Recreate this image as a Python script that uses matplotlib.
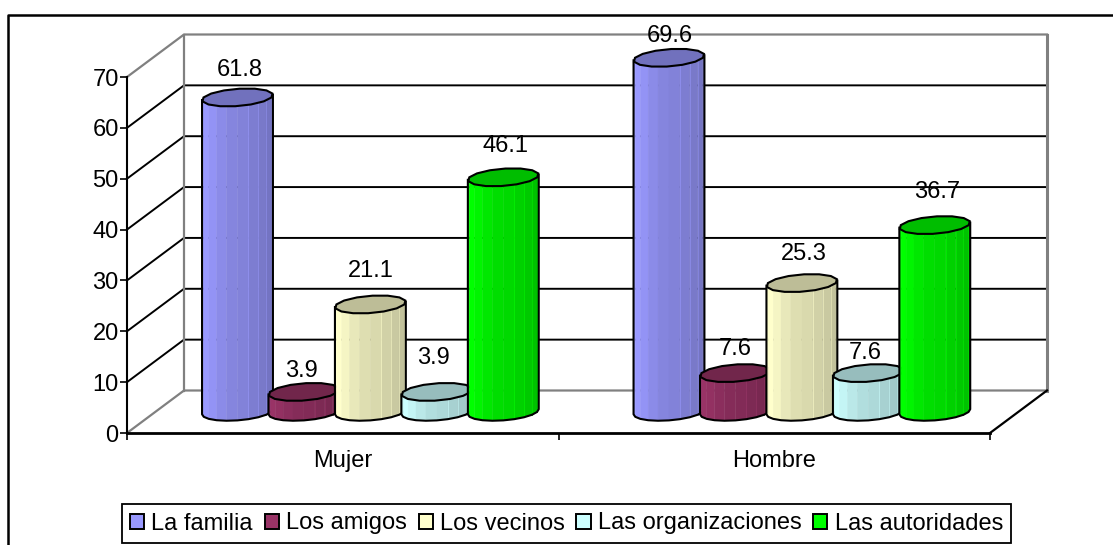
import numpy as np
import matplotlib.pyplot as plt
from matplotlib.patches import Patch
from matplotlib.lines import Line2D

plt.rcParams['font.family'] = ['Liberation Sans', 'DejaVu Sans']

# Data
categories = ['Mujer', 'Hombre']
series = ['La familia', 'Los amigos', 'Los vecinos', 'Las organizaciones', 'Las autoridades']
mujer = [61.8, 3.9, 21.1, 3.9, 46.1]
hombre = [69.6, 7.6, 25.3, 7.6, 36.7]
colors = ['#9999FF', '#993366', '#FFFFCC', '#CCFFFF', '#00FF00']
# label offsets in pixels (dx, height above the bar top)
label_mujer = [(2, 27), (-2, 21), (0, 33), (-3, 34), (2, 31)]
label_hombre = [(1, 22), (0, 24), (2, 29), (-3, 20), (2, 33)]

W, H = 1113, 545
FS = 17
fig = plt.figure(figsize=(W / 100, H / 100), dpi=100)
ax = fig.add_axes([127 / W, 1 - 433 / H, 863 / W, 356 / H])
ax.set_xlim(0, 2)
ax.set_ylim(0, 70)
ax.patch.set_alpha(0)

# pixels to data units
px = 2 / 863
py = 70 / 356
dx, dy = 57 * px, 42.5 * py   # depth of the floor
gray = '#808080'

# Outer frame, only top and left show
fig.add_artist(Line2D([1, 8 / W, 8 / W], [1 - 15 / H, 1 - 15 / H, 0], color='black', lw=1.8))

# Walls and gridlines
for v in range(10, 70, 10):
    ax.plot([0, dx, 2 + dx], [v, v + dy, v + dy], color='black', lw=1.4, clip_on=False, zorder=1)
ax.plot([0, dx, 2 + dx], [0, dy, dy], color=gray, lw=1.6, clip_on=False, zorder=1)
ax.plot([0, dx, 2 + dx], [70, 70 + dy, 70 + dy], color=gray, lw=1.6, clip_on=False, zorder=1)
ax.plot([dx, dx], [dy, 70 + dy], color=gray, lw=1.6, clip_on=False, zorder=1)
ax.plot([2 + dx, 2 + dx], [dy, 70 + dy], color=gray, lw=2.2, clip_on=False, zorder=1)
ax.plot([2, 2 + dx], [0, dy], color='black', lw=1.6, clip_on=False, zorder=1)

# Column shape
A, B, C = 34 * px, 10 * px, 9 * py
t0 = np.arctan2(B, A)
shades = [1.0, 1.0, 0.96, 0.91, 0.87, 0.85, 0.82, 0.79, 0.76, 0.72]
top_shade = 0.74


def shade(color, f):
    rgb = np.array(plt.matplotlib.colors.to_rgb(color))
    return tuple(rgb * f)


def column(x, value, color, z):
    cx = x + dx / 2
    base = dy / 2
    front = np.linspace(np.pi + t0, 2 * np.pi + t0, len(shades) + 1)
    fx = cx + A * np.cos(front) + B * np.sin(front)
    fy = C * np.sin(front)
    for i, f in enumerate(shades):
        sx = [fx[i], fx[i + 1], fx[i + 1], fx[i]]
        sy = [base + fy[i], base + fy[i + 1], base + value + fy[i + 1], base + value + fy[i]]
        ax.fill(sx, sy, color=shade(color, f), lw=0.3, clip_on=False, zorder=z)
        if i >= 6:
            ax.plot([fx[i], fx[i]], [base + fy[i], base + value + fy[i]],
                    color=shade(color, min(f + 0.12, 1)), lw=0.6, clip_on=False, zorder=z)
    ax.plot(np.r_[fx[0], fx[0], fx, fx[-1]],
            np.r_[base + value + fy[0], base + fy[0], base + fy, base + value + fy[-1]],
            color='black', lw=1.5, clip_on=False, zorder=z + 0.1)
    t = np.linspace(0, 2 * np.pi, 15)
    ax.fill(cx + A * np.cos(t) + B * np.sin(t), base + value + C * np.sin(t),
            facecolor=shade(color, top_shade), edgecolor='black', lw=1.5, clip_on=False, zorder=z + 0.2)


z = 3
for c, values in enumerate([mujer, hombre]):
    for j, v in enumerate(values):
        column(c + 0.19 + j * 0.154, v, colors[j], z)
        z += 1
for c, (values, offsets) in enumerate([(mujer, label_mujer), (hombre, label_hombre)]):
    for j, v in enumerate(values):
        x = c + 0.19 + j * 0.154 + dx / 2
        ax.text(x + offsets[j][0] * px, v + dy / 2 + offsets[j][1] * py, str(v),
                ha='center', va='center', fontsize=FS, zorder=50, clip_on=False)

# Axes
for s in ['top', 'right']:
    ax.spines[s].set_visible(False)
ax.spines['left'].set_linewidth(1.5)
ax.spines['bottom'].set_linewidth(2)
ax.set_yticks(range(0, 80, 10))
ax.set_xticks([0, 1, 2])
ax.set_xticklabels([])
ax.set_xticks([0.5, 1.5], categories, minor=True)
ax.tick_params(axis='x', which='minor', length=0, labelsize=FS, pad=12)
ax.tick_params(axis='x', which='major', length=5, width=1.2)
ax.tick_params(axis='y', labelsize=FS, length=5, width=1.2, pad=1)

# Legend
handles = [Patch(facecolor=col, edgecolor='black', lw=1.4) for col in colors]
leg = fig.legend(handles, series, loc='center', bbox_to_anchor=(566.5 / W, 1 - 523.5 / H), ncol=5,
                 fontsize=FS, handlelength=0.6, handleheight=0.6, handletextpad=0.3,
                 columnspacing=0.5, borderpad=0.36, fancybox=False, framealpha=1,
                 edgecolor='black', borderaxespad=0)
leg.get_frame().set_linewidth(1.3)

plt.savefig('out.png', dpi=100)
